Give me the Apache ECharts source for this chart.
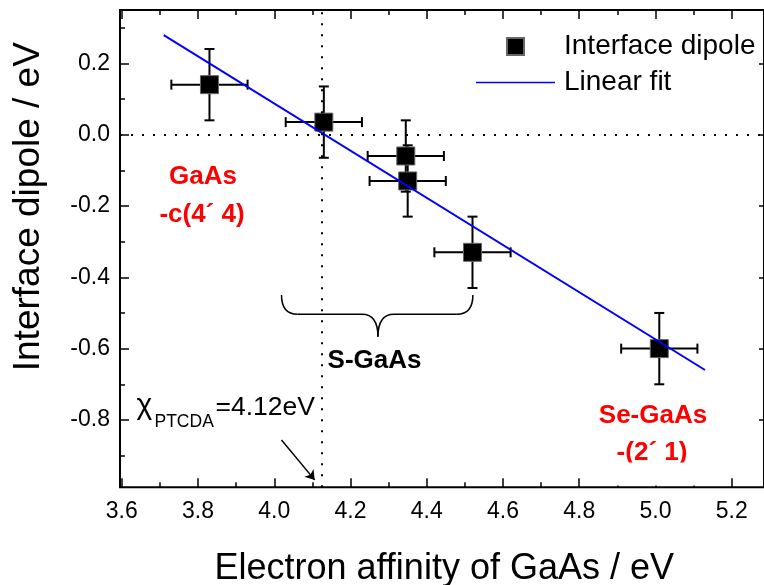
<!DOCTYPE html>
<html><head><meta charset="utf-8">
<script src="https://cdn.jsdelivr.net/npm/echarts@6/dist/echarts.min.js"></script>
<style>html,body{margin:0;padding:0;background:#fff}#c{width:764px;height:585px}</style>
</head><body><div id="c"></div>
<script>
// ---- data ----
const dipoleX = [3.83, 4.13, 4.345, 4.35, 4.52, 5.01];
const dipoleY = [0.14, 0.035, -0.06, -0.13, -0.33, -0.60];
const errX = [0.10, 0.10, 0.10, 0.10, 0.10, 0.10];
const errY = [0.10, 0.10, 0.10, 0.10, 0.10, 0.10];
const fitX = [3.71, 5.13];
const fitY = [0.279, -0.66];
const xTickLabels = ['3.6', '3.8', '4.0', '4.2', '4.4', '4.6', '4.8', '5.0', '5.2'];
const yTickLabels = ['-0.8', '-0.6', '-0.4', '-0.2', '0.0', '0.2'];
const xMinorTicks = [3.7, 3.9, 4.1, 4.3, 4.5, 4.7, 4.9, 5.1];
const yMinorTicks = [-0.9, -0.7, -0.5, -0.3, -0.1, 0.1, 0.3];
const xRange = [3.5953, 5.2847];   // visible plot frame
const yRange = [-0.9888, 0.3493];
const chiValue = 4.125;            // vertical dotted guide
const zeroValue = 0;               // horizontal dotted guide
const arrowFrom = [4.019, -0.856];
const arrowTo = [4.106, -0.968];
const braceX = [4.019, 4.272, 4.521];
const braceY = [-0.450, -0.504, -0.567];

const FONT = '"Liberation Sans", Arial, sans-serif';
const chart = echarts.init(document.getElementById('c'), null, {renderer: 'canvas'});

const pointData = dipoleX.map((x, i) => [x, dipoleY[i], errX[i], errY[i]]);
const fitData = fitX.map((x, i) => [x, fitY[i]]);
const xMajor = xTickLabels.map(Number);
const yMajor = yTickLabels.map(Number);

function errRender(params, api) {
  const x = api.value(0), y = api.value(1), ex = api.value(2), ey = api.value(3);
  const l = api.coord([x - ex, y]), r = api.coord([x + ex, y]);
  const t = api.coord([x, y + ey]), b = api.coord([x, y - ey]);
  const cap = 5;
  const st = {stroke: '#000', lineWidth: 2};
  const ln = (x1, y1, x2, y2) => ({type: 'line', shape: {x1, y1, x2, y2}, style: st});
  return {type: 'group', children: [
    ln(l[0], l[1], r[0], r[1]),
    ln(t[0], t[1], b[0], b[1]),
    ln(l[0], l[1] - cap, l[0], l[1] + cap),
    ln(r[0], r[1] - cap, r[0], r[1] + cap),
    ln(t[0] - cap, t[1], t[0] + cap, t[1]),
    ln(b[0] - cap, b[1], b[0] + cap, b[1])
  ]};
}

const noLine = {show: false, onZero: false};
const tick = (len, vals) => ({show: true, inside: true, length: len, customValues: vals,
                              lineStyle: {color: '#000', width: 1.5}});
const noLabel = {show: false};
const xAx = (pos, len, vals, label) => ({type: 'value', position: pos, min: xRange[0], max: xRange[1],
  axisLine: noLine, axisTick: tick(len, vals), splitLine: {show: false},
  axisLabel: label || noLabel});
const yAx = (pos, len, vals, label) => ({type: 'value', position: pos, min: yRange[0], max: yRange[1],
  axisLine: noLine, axisTick: tick(len, vals), splitLine: {show: false},
  axisLabel: label || noLabel});

const option = {
  animation: false,
  backgroundColor: '#fff',
  grid: {left: 120, top: 10, right: -1, bottom: 97.7, containLabel: false,
         show: true, borderColor: '#000', borderWidth: 2, backgroundColor: 'transparent'},
  xAxis: [
    xAx('bottom', 9, xMajor, {show: true, customValues: xMajor, formatter: v => v.toFixed(1),
        margin: 13, fontSize: 23, color: '#000', fontFamily: FONT}),
    xAx('bottom', 5, xMinorTicks),
    xAx('top', 9, xMajor),
    xAx('top', 5, xMinorTicks)
  ],
  yAxis: [
    yAx('left', 9, yMajor, {show: true, customValues: yMajor,
        formatter: v => (Math.abs(v) < 1e-9 ? 0 : v).toFixed(1),
        margin: 10, fontSize: 23, color: '#000', fontFamily: FONT}),
    yAx('left', 5, yMinorTicks),
    yAx('right', 5, yMajor)
  ],
  legend: {
    orient: 'vertical', left: 476, top: 31.5, padding: 0, itemGap: 6,
    itemWidth: 79, itemHeight: 17, selectedMode: false,
    textStyle: {fontSize: 28, lineHeight: 30, color: '#000', fontFamily: FONT, padding: [0, 0, 0, 4]},
    data: [
      {name: 'Interface dipole', icon: 'path://M0,0H10V10H0Z'},
      {name: 'Linear fit', icon: 'path://M0,0H80V1.6H0Z'}
    ]
  },
  series: [
    {type: 'custom', name: 'errors', renderItem: errRender, data: pointData,
     encode: {x: 0, y: 1}, z: 2, silent: true},
    {type: 'scatter', name: 'Interface dipole', data: pointData.map(p => [p[0], p[1]]),
     symbol: 'rect', symbolSize: 18, z: 3,
     itemStyle: {color: '#000', borderColor: '#666', borderWidth: 1, opacity: 1},
     markLine: {silent: true, symbol: 'none', label: {show: false},
       lineStyle: {color: '#000', width: 2, type: [2, 9]},
       data: [
         [{coord: [chiValue, yRange[0]]}, {coord: [chiValue, yRange[1]]}],
         [{coord: [xRange[0], zeroValue]}, {coord: [xRange[1], zeroValue]}]
       ]}},
    {type: 'line', name: 'Linear fit', data: fitData, showSymbol: false, symbol: 'none', z: 4,
     color: '#0000ff', lineStyle: {color: '#0000ff', width: 2},
     markLine: {silent: true, symbol: ['none', 'arrow'], symbolSize: 9, label: {show: false},
       lineStyle: {color: '#000', width: 1.5, type: 'solid'},
       data: [[{coord: arrowFrom}, {coord: arrowTo}]]}}
  ]
};
chart.setOption(option);

// annotations positioned from data coordinates
const px = (x, y) => chart.convertToPixel({xAxisIndex: 0, yAxisIndex: 0}, [x, y]);
const bL = px(braceX[0], braceY[0]), bR = px(braceX[2], braceY[0]);
const yH = px(braceX[1], braceY[1])[1], tip = px(braceX[1], braceY[2]);
const r = 16;
const bst = {fill: 'none', stroke: '#000', lineWidth: 1.5};
const qc = (x1, y1, cx, cy, x2, y2) => ({type: 'bezierCurve', z: 10,
  shape: {x1, y1, x2, y2, cpx1: cx, cpy1: cy}, style: bst});
const sl = (x1, y1, x2, y2) => ({type: 'line', z: 10, shape: {x1, y1, x2, y2}, style: bst});

const txt = (text, x, y, size, color, weight, extra) => Object.assign({
  type: 'text', x, y, z: 10,
  style: {text, fontSize: size, fontFamily: FONT, fill: color, fontWeight: weight || 'normal',
          align: 'center', verticalAlign: 'middle'}
}, extra || {});

chart.setOption({graphic: [
  qc(bL[0], bL[1], bL[0], yH, bL[0] + r, yH),
  sl(bL[0] + r, yH, tip[0] - r, yH),
  qc(tip[0] - r, yH, tip[0], yH, tip[0], tip[1]),
  qc(tip[0], tip[1], tip[0], yH, tip[0] + r, yH),
  sl(tip[0] + r, yH, bR[0] - r, yH),
  qc(bR[0] - r, yH, bR[0], yH, bR[0], bR[1]),
  txt('GaAs', 203, 177, 26, '#ff0000', 'bold'),
  txt('-c(4\u00b4 4)', 202, 215, 26, '#ff0000', 'bold'),
  txt('S-GaAs', 374.5, 361, 26, '#000', 'bold'),
  txt('Se-GaAs', 653, 416, 26, '#ff0000', 'bold'),
  txt('-(2\u00b4 1)', 652, 452.5, 26, '#ff0000', 'bold'),
  {type: 'rect', z: 11, shape: {x: 600, y: 462.5, width: 110, height: 23}, style: {fill: '#fff'}},
  {type: 'text', x: 136.5, y: 406.2, z: 10, style: {text: '\u03c7', fontSize: 30, fontFamily: FONT, fill: '#000', align: 'left', verticalAlign: 'middle'}},
  {type: 'text', x: 154.5, y: 421.8, z: 10, style: {text: 'PTCDA', fontSize: 17.5, fontFamily: FONT, fill: '#000', align: 'left', verticalAlign: 'middle'}},
  {type: 'text', x: 215.5, y: 407.5, z: 10, style: {text: '=4.12eV', fontSize: 26.5, fontFamily: FONT, fill: '#000', align: 'left', verticalAlign: 'middle'}},
  txt('Electron affinity of GaAs / eV', 444.2, 569.5, 36, '#000'),
  txt('Interface dipole / eV', 28.3, 206.7, 37, '#000', 'normal', {rotation: Math.PI / 2})
]});
</script></body></html>
